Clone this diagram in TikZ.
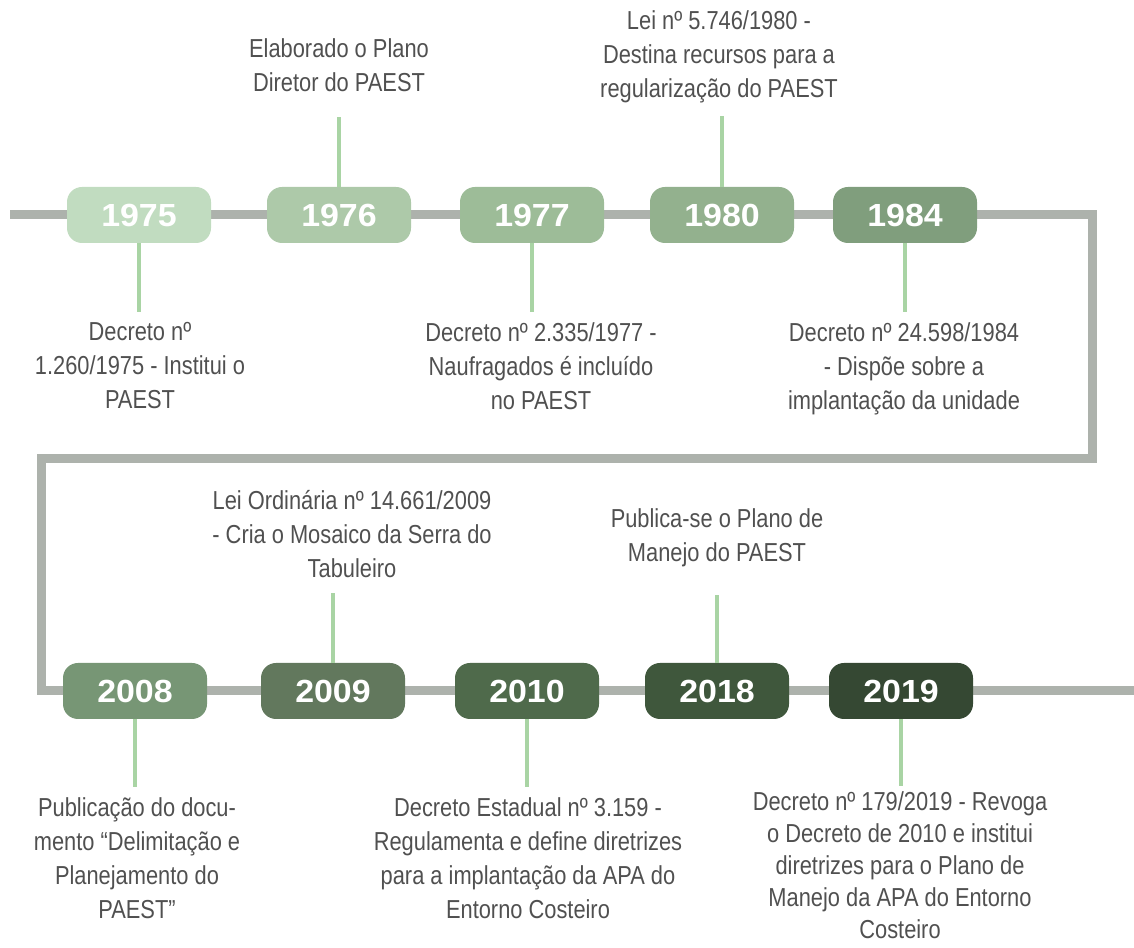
\documentclass[tikz,border=0pt]{standalone}
\usepackage{fontspec}
\setmainfont{Liberation Sans}[FakeStretch=0.84]
\newfontfamily\yearfont{Liberation Sans}[FakeStretch=1.06]

\definecolor{trackgray}{HTML}{ADB2AC}
\definecolor{stemgreen}{HTML}{A9D4A4}
\definecolor{notegray}{HTML}{505050}
\definecolor{y1975}{HTML}{C1DCC0}
\definecolor{y1976}{HTML}{ADC9A9}
\definecolor{y1977}{HTML}{9DBC98}
\definecolor{y1980}{HTML}{93B18E}
\definecolor{y1984}{HTML}{809E7D}
\definecolor{y2008}{HTML}{779675}
\definecolor{y2009}{HTML}{62785D}
\definecolor{y2010}{HTML}{4F6A4B}
\definecolor{y2018}{HTML}{3F573C}
\definecolor{y2019}{HTML}{354833}

\begin{document}
\begin{tikzpicture}[x=1pt, y=1pt,
    year/.style={rounded corners=15pt, minimum width=144pt, minimum height=56pt, inner sep=0pt, text=white, font=\yearfont\bfseries\fontsize{32}{32}\selectfont},
    note/.style={align=center, inner sep=0pt, anchor=north, text=notegray, font=\fontsize{26}{34}\selectfont},
    stem/.style={draw=stemgreen, line width=4.5pt}]
    \useasboundingbox (0,0) rectangle (1134,947);

    \coordinate (start) at (10,732);
    \coordinate (end) at (1134,256);
    \draw[draw=trackgray, line width=9pt] (start) -- (1092,732) -- (1092,488) -- (41,488) -- (41,256) -- (end);

    \node[year, fill=y1975] (b1975) at (139,732) {1975};
    \node[note] (t1975) at (140,625) {Decreto nº\\1.260/1975 - Institui o\\PAEST};
    \draw[stem, shorten >=10pt] (b1975.south) -- (b1975.south |- t1975.north);

    \node[year, fill=y1976] (b1976) at (339,732) {1976};
    \node[note] (t1976) at (339,909) {Elaborado o Plano\\Diretor do PAEST};
    \draw[stem, shorten >=26pt] (b1976.north) -- (b1976.north |- t1976.south);

    \node[year, fill=y1977] (b1977) at (532,732) {1977};
    \node[note] (t1977) at (541,625) {Decreto nº 2.335/1977 -\\Naufragados é incluído\\no PAEST};
    \draw[stem, shorten >=10pt] (b1977.south) -- (b1977.south |- t1977.north);

    \node[year, fill=y1980] (b1980) at (722,732) {1980};
    \node[note] (t1980) at (719,937) {Lei nº 5.746/1980 -\\Destina recursos para a\\regularização do PAEST};
    \draw[stem, shorten >=13pt] (b1980.north) -- (b1980.north |- t1980.south);

    \node[year, fill=y1984] (b1984) at (905,732) {1984};
    \node[note] (t1984) at (904,625) {Decreto nº 24.598/1984\\- Dispõe sobre a\\implantação da unidade};
    \draw[stem, shorten >=10pt] (b1984.south) -- (b1984.south |- t1984.north);

    \node[year, fill=y2008] (b2008) at (135,256) {2008};
    \node[note] (t2008) at (137,150) {Publicação do docu-\\mento “Delimitação e\\Planejamento do\\PAEST”};
    \draw[stem, shorten >=10pt] (b2008.south) -- (b2008.south |- t2008.north);

    \node[year, fill=y2009] (b2009) at (333,256) {2009};
    \node[note] (t2009) at (352,457) {Lei Ordinária nº 14.661/2009\\- Cria o Mosaico da Serra do\\Tabuleiro};
    \draw[stem, shorten >=15pt] (b2009.north) -- (b2009.north |- t2009.south);

    \node[year, fill=y2010] (b2010) at (527,256) {2010};
    \node[note] (t2010) at (528,150) {Decreto Estadual nº 3.159 -\\Regulamenta e define diretrizes\\para a implantação da APA do\\Entorno Costeiro};
    \draw[stem, shorten >=10pt] (b2010.south) -- (b2010.south |- t2010.north);

    \node[year, fill=y2018] (b2018) at (717,256) {2018};
    \node[note] (t2018) at (717,439) {Publica-se o Plano de\\Manejo do PAEST};
    \draw[stem, shorten >=28pt] (b2018.north) -- (b2018.north |- t2018.south);

    \node[year, fill=y2019] (b2019) at (901,256) {2019};
    \node[note, font=\fontsize{26}{32}\selectfont] (t2019) at (900,156) {Decreto nº 179/2019 - Revoga\\o Decreto de 2010 e institui\\diretrizes para o Plano de\\Manejo da APA do Entorno\\Costeiro};
    \draw[stem, shorten >=5pt] (b2019.south) -- (b2019.south |- t2019.north);
  \end{tikzpicture}
\end{document}
